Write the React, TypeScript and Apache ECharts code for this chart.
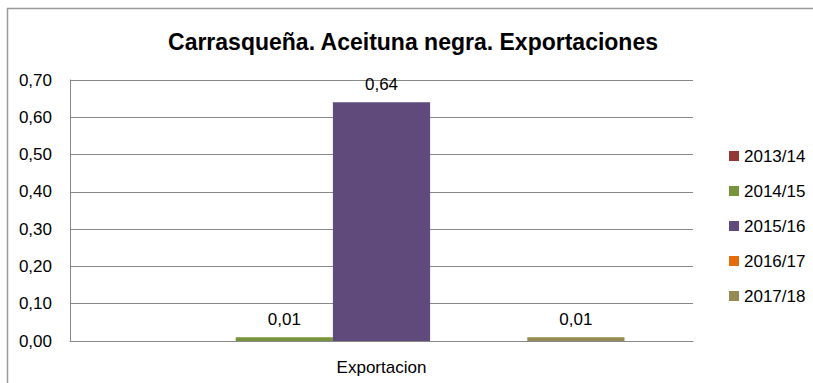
import React, { useEffect, useRef } from "react";
import * as echarts from "echarts";

const categories = ["Exportacion"];
const seriesNames = ["2013/14", "2014/15", "2015/16", "2016/17", "2017/18"];
const seriesValues: (number | null)[][] = [[null], [0.01], [0.64], [null], [0.01]];
const seriesColors = ["#953735", "#77933C", "#604A7B", "#E46C0A", "#948A54"];
const titleText = "Carrasqueña. Aceituna negra. Exportaciones";

const FONT = "Liberation Sans";
const fmt = (v: number) => v.toFixed(2).replace(".", ",");

export default function App() {
  const ref = useRef<HTMLDivElement>(null);
  useEffect(() => {
    if (!ref.current) return;
    const chart = echarts.init(ref.current, null, { renderer: "svg" });
    chart.setOption({
      animation: false,
      backgroundColor: "#ffffff",
      textStyle: { fontFamily: FONT },
      title: {
        text: titleText,
        left: 408,
        textAlign: "center",
        top: 25,
        textStyle: { fontFamily: FONT, fontSize: 23, fontWeight: "bold", color: "#000" },
      },
      graphic: [
        { type: "line", shape: { x1: 7, y1: 8.5, x2: 813, y2: 8.5 }, style: { stroke: "#9a9a9a", lineWidth: 1.5 } },
        { type: "line", shape: { x1: 7.5, y1: 8, x2: 7.5, y2: 383 }, style: { stroke: "#9a9a9a", lineWidth: 1.5 } },
      ],
      legend: {
        orient: "vertical",
        left: 724,
        top: 141,
        itemWidth: 10,
        itemHeight: 10,
        itemGap: 15,
        icon: "rect",
        data: seriesNames,
        textStyle: { fontFamily: FONT, fontSize: 17, color: "#000", lineHeight: 20 },
      },
      grid: { left: 70, right: 120, top: 80, bottom: 42, containLabel: false },
      xAxis: {
        type: "category",
        data: categories,
        axisLine: { lineStyle: { color: "#888", width: 1 } },
        axisTick: { show: false },
        axisLabel: { fontFamily: FONT, fontSize: 17, color: "#000", margin: 18 },
      },
      yAxis: {
        type: "value",
        min: 0,
        max: 0.7,
        interval: 0.1,
        axisLine: { show: true, lineStyle: { color: "#888", width: 1 } },
        axisTick: { show: false },
        splitLine: { lineStyle: { color: "#888", width: 1 } },
        axisLabel: { fontFamily: FONT, fontSize: 17, color: "#000", margin: 18, formatter: (v: number) => fmt(v) },
      },
      series: seriesNames.map((name, i) => ({
        name,
        type: "bar",
        data: seriesValues[i],
        barGap: "0%",
        barCategoryGap: "22%",
        itemStyle: { color: seriesColors[i] },
        label: {
          show: true,
          position: "top",
          distance: 9,
          fontFamily: FONT,
          fontSize: 17,
          color: "#000",
          formatter: (p: any) => (p.value == null ? "" : fmt(p.value)),
        },
      })),
    });
    return () => chart.dispose();
  }, []);
  return <div ref={ref} style={{ position: "fixed", left: 0, top: 0, width: 813, height: 383 }} />;
}
